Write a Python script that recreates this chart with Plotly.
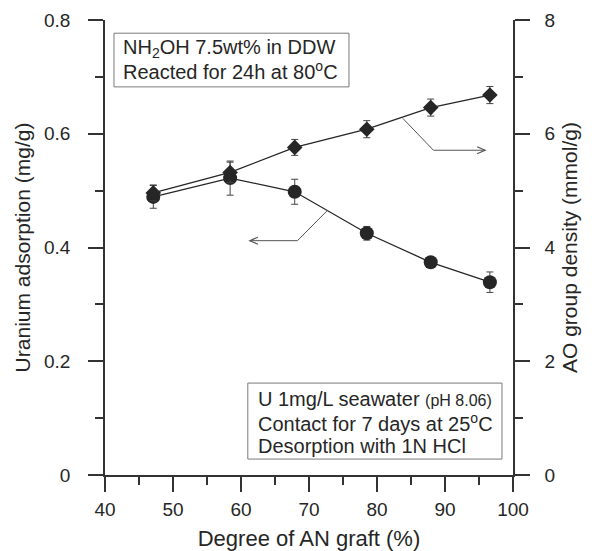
import plotly.graph_objects as go

# Degree of AN graft (%) for each sample
graft = [47.1, 58.4, 67.9, 78.5, 87.9, 96.6]
# Uranium adsorption (mg/g), left axis
uranium = [0.489, 0.522, 0.498, 0.425, 0.374, 0.339]
uranium_err = [0.020, 0.030, 0.022, 0.012, 0.006, 0.018]
# AO group density (mmol/g), right axis
ao_density = [4.96, 5.32, 5.76, 6.08, 6.46, 6.68]
ao_err = [0.14, 0.18, 0.14, 0.15, 0.15, 0.15]

INK = "#262626"
AXIS = "#333333"
FONT = "Liberation Sans, Arial, Helvetica, sans-serif"

fig = go.Figure()

fig.add_trace(go.Scatter(
    x=graft, y=ao_density, yaxis="y2", mode="lines+markers",
    line=dict(color=INK, width=1.3),
    marker=dict(symbol="diamond", size=12, color=INK),
    error_y=dict(type="data", array=ao_err, color="#444444", thickness=1, width=3.5),
    showlegend=False,
))
fig.add_trace(go.Scatter(
    x=graft, y=uranium, mode="lines+markers",
    line=dict(color=INK, width=1.3),
    marker=dict(symbol="circle", size=14, color=INK),
    error_y=dict(type="data", array=uranium_err, color="#444444", thickness=1, width=3.5),
    showlegend=False,
))

# Leader lines pointing each curve to its axis, with open arrowheads
LEAD = "#555555"
leaders = [
    # (start on curve, bend, end, direction)
    ((83.8, 0.627), (88.3, 0.571), (95.9, 0.571), 1),
    ((72.7, 0.465), (68.3, 0.412), (61.3, 0.412), -1),
]
for (xs, ys), (xb, yb), (xe, ye), d in leaders:
    fig.add_shape(type="path", xref="x", yref="y",
                  path=f"M {xs},{ys} L {xb},{yb} L {xe},{ye}",
                  line=dict(color=LEAD, width=1))
    fig.add_shape(type="path", xref="x", yref="y",
                  xsizemode="pixel", ysizemode="pixel", xanchor=xe, yanchor=ye,
                  path=f"M {-8 * d},3.5 L 0,0 L {-8 * d},-3.5",
                  line=dict(color=LEAD, width=1.2))

# Condition boxes
BOX = "#7a7a7a"
TXT = dict(family=FONT, size=20, color=INK)


def box_lines(x, ys, lines):
    for y, t in zip(ys, lines):
        fig.add_annotation(xref="paper", yref="paper", x=x, y=y, xanchor="left",
                           yanchor="middle", align="left", showarrow=False,
                           text=t, font=TXT)


fig.add_shape(type="rect", xref="paper", yref="paper", x0=0.022, x1=0.598, y0=0.853, y1=0.971,
              line=dict(color=BOX, width=1))
box_lines(0.040, [0.937, 0.889],
          ["NH<sub>2</sub>OH 7.5wt% in DDW",
           "Reacted for 24h at 80<sup>o</sup>C"])

fig.add_shape(type="rect", xref="paper", yref="paper", x0=0.350, x1=0.973, y0=0.035, y1=0.202,
              line=dict(color=BOX, width=1))
box_lines(0.371, [0.166, 0.1145, 0.063],
          ["U 1mg/L seawater <span style='font-size:16px'>(pH 8.06)</span>",
           "Contact for 7 days at 25<sup>o</sup>C",
           "Desorption with 1N HCl"])

axis_common = dict(
    showline=True, linecolor=AXIS, linewidth=1.5, showgrid=False, zeroline=False,
    ticks="outside", ticklen=15, tickwidth=1.5, tickcolor=AXIS,
    tickfont=dict(family=FONT, size=19, color=INK),
    mirror=False, automargin=False,
)

fig.update_layout(
    width=592, height=551,
    margin=dict(l=105, r=79, t=20, b=76, autoexpand=False),
    paper_bgcolor="white", plot_bgcolor="white",
    font=dict(family=FONT, color=INK),
    xaxis=dict(
        range=[40, 100], dtick=10, tick0=40,
        minor=dict(dtick=5, ticklen=8, ticks="outside", tickwidth=1.5, tickcolor=AXIS),
        title=dict(text="Degree of AN graft (%)", font=dict(family=FONT, size=22, color=INK), standoff=18),
        ticklabelstandoff=1,
        **axis_common,
    ),
    yaxis=dict(
        range=[0, 0.8], dtick=0.2, tick0=0,
        minor=dict(dtick=0.1, ticklen=8, ticks="outside", tickwidth=1.5, tickcolor=AXIS),
        title=dict(text="Uranium adsorption (mg/g)", font=dict(family=FONT, size=21, color=INK), standoff=8),
        ticklabelstandoff=14,
        **axis_common,
    ),
    yaxis2=dict(
        range=[0, 8], dtick=2, tick0=0, overlaying="y", side="right",
        minor=dict(dtick=1, ticklen=8, ticks="outside", tickwidth=1.5, tickcolor=AXIS),
        title=dict(text="AO group density (mmol/g)", font=dict(family=FONT, size=21, color=INK), standoff=8),
        ticklabelstandoff=11,
        **axis_common,
    ),
)

fig.write_html("out.html")
